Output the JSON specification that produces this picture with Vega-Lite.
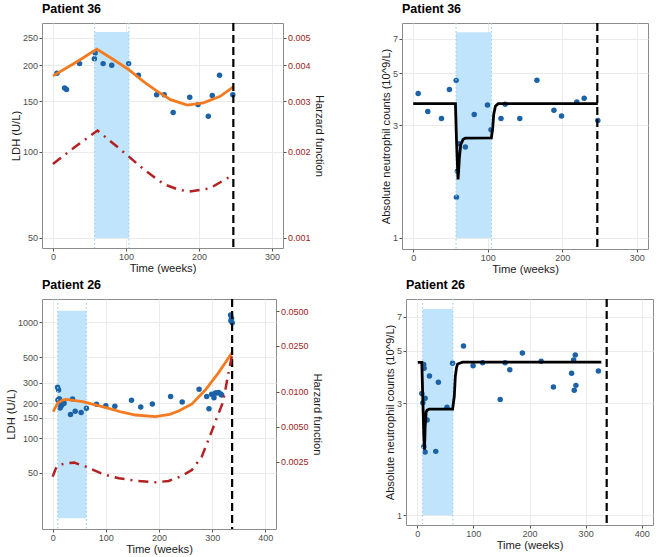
{
  "$schema": "https://vega.github.io/schema/vega-lite/v6.json",
  "padding": {"left": 4, "top": 2, "right": 2, "bottom": 2},
  "config": {
    "font": "Liberation Sans",
    "view": {"stroke": "#8c8c8c", "strokeWidth": 1},
    "axis": {"gridColor": "#EBEBEB", "gridWidth": 1, "domain": false, "tickColor": "#555", "tickSize": 3, "labelColor": "#4D4D4D", "labelFontSize": 9, "labelPadding": 1.5, "titleFontSize": 11.2, "titleFontWeight": "normal", "titleColor": "#1a1a1a", "titlePadding": 1},
    "title": {"fontSize": 12.5, "fontWeight": "bold", "anchor": "start", "frame": "group", "offset": 6, "color": "#000"}
  },
  "datasets": {
    "p36_shade": [{"start": 57, "end": 104, "low": 50, "high": 262}],
    "p36_end": [{"week": 247}],
    "p36_obs": [
      {"week": 5.5, "ldh": 188}, {"week": 15.9, "ldh": 167}, {"week": 18.6, "ldh": 165}, {"week": 36.5, "ldh": 203},
      {"week": 56.7, "ldh": 211}, {"week": 57.8, "ldh": 221}, {"week": 68.7, "ldh": 203}, {"week": 80.5, "ldh": 200.5},
      {"week": 103.7, "ldh": 203}, {"week": 117, "ldh": 185}, {"week": 142, "ldh": 158}, {"week": 152.4, "ldh": 158},
      {"week": 164.6, "ldh": 137}, {"week": 187.3, "ldh": 155}, {"week": 198.6, "ldh": 146}, {"week": 212.7, "ldh": 133},
      {"week": 218.1, "ldh": 157}, {"week": 228.1, "ldh": 185}, {"week": 246.3, "ldh": 158}
    ],
    "p36_fit": [
      {"week": 0, "ldh": 184}, {"week": 34, "ldh": 207}, {"week": 60, "ldh": 228}, {"week": 80, "ldh": 212},
      {"week": 103, "ldh": 194}, {"week": 125, "ldh": 175}, {"week": 142, "ldh": 163}, {"week": 161, "ldh": 152},
      {"week": 184, "ldh": 145.5}, {"week": 206, "ldh": 148}, {"week": 229, "ldh": 156}, {"week": 246.5, "ldh": 168}
    ],
    "p36_haz": [
      {"week": 0, "hazard": 0.001813}, {"week": 30, "hazard": 0.002075}, {"week": 61, "hazard": 0.00237},
      {"week": 90, "hazard": 0.00206}, {"week": 125, "hazard": 0.00173}, {"week": 152, "hazard": 0.00154},
      {"week": 170, "hazard": 0.00148}, {"week": 186, "hazard": 0.00145}, {"week": 215, "hazard": 0.00149},
      {"week": 246.5, "hazard": 0.00166}
    ],
    "p36n_shade": [{"start": 57.5, "end": 105, "low": 1, "high": 7.46}],
    "p36n_obs": [
      {"week": 6.7, "anc": 4.10}, {"week": 19.6, "anc": 3.44}, {"week": 37.9, "anc": 3.21}, {"week": 48.6, "anc": 4.26},
      {"week": 57.6, "anc": 4.66}, {"week": 58, "anc": 1.49}, {"week": 59.3, "anc": 1.92}, {"week": 62, "anc": 2.51},
      {"week": 70, "anc": 2.43}, {"week": 81.9, "anc": 3.34}, {"week": 99.7, "anc": 3.66}, {"week": 104.4, "anc": 2.88},
      {"week": 117.8, "anc": 3.21}, {"week": 123.4, "anc": 3.69}, {"week": 143, "anc": 3.21}, {"week": 166, "anc": 4.67},
      {"week": 188.8, "anc": 3.48}, {"week": 199, "anc": 3.29}, {"week": 219.5, "anc": 3.77}, {"week": 229.4, "anc": 3.91},
      {"week": 247.7, "anc": 3.15}
    ],
    "p36n_fit": [
      {"week": 0, "anc": 3.71}, {"week": 56.7, "anc": 3.71}, {"week": 58, "anc": 2.66}, {"week": 59.4, "anc": 2.02},
      {"week": 60.2, "anc": 1.77}, {"week": 62, "anc": 2.19}, {"week": 63.8, "anc": 2.49}, {"week": 67, "anc": 2.62},
      {"week": 70, "anc": 2.65}, {"week": 104.9, "anc": 2.66}, {"week": 106.7, "anc": 2.93}, {"week": 108, "anc": 3.34},
      {"week": 110.3, "anc": 3.62}, {"week": 113.9, "anc": 3.71}, {"week": 247.7, "anc": 3.71}
    ],
    "p26_shade": [{"start": 9.5, "end": 63.5, "low": 20.2, "high": 1260}],
    "p26_end": [{"week": 337.5}],
    "p26_obs": [
      {"week": 9.3, "ldh": 274}, {"week": 11.2, "ldh": 260}, {"week": 10, "ldh": 213}, {"week": 12.5, "ldh": 218},
      {"week": 13.5, "ldh": 205}, {"week": 14, "ldh": 182}, {"week": 15.5, "ldh": 188}, {"week": 17, "ldh": 193},
      {"week": 19, "ldh": 198}, {"week": 21.5, "ldh": 200}, {"week": 33.6, "ldh": 160}, {"week": 37.4, "ldh": 217},
      {"week": 42.4, "ldh": 170}, {"week": 53.6, "ldh": 166}, {"week": 63.6, "ldh": 181}, {"week": 82.5, "ldh": 196},
      {"week": 100, "ldh": 190}, {"week": 117, "ldh": 188}, {"week": 148.3, "ldh": 212}, {"week": 165.7, "ldh": 185},
      {"week": 187.5, "ldh": 197}, {"week": 221.8, "ldh": 228}, {"week": 243.6, "ldh": 205}, {"week": 275.4, "ldh": 264},
      {"week": 289.7, "ldh": 228}, {"week": 294, "ldh": 179}, {"week": 299, "ldh": 239}, {"week": 303.4, "ldh": 223},
      {"week": 305.9, "ldh": 245}, {"week": 308.4, "ldh": 245}, {"week": 312.1, "ldh": 248}, {"week": 315.9, "ldh": 240},
      {"week": 317.8, "ldh": 235}, {"week": 334.6, "ldh": 1157}, {"week": 336.4, "ldh": 1083}, {"week": 335.2, "ldh": 1033},
      {"week": 337.7, "ldh": 993}
    ],
    "p26_fit": [
      {"week": 1, "ldh": 169}, {"week": 9.3, "ldh": 200}, {"week": 18.7, "ldh": 213}, {"week": 25, "ldh": 216},
      {"week": 56, "ldh": 206}, {"week": 93.5, "ldh": 187}, {"week": 130.8, "ldh": 167}, {"week": 155.8, "ldh": 158},
      {"week": 193, "ldh": 153}, {"week": 220, "ldh": 160}, {"week": 237, "ldh": 171}, {"week": 262, "ldh": 197},
      {"week": 287, "ldh": 260}, {"week": 311, "ldh": 362}, {"week": 324, "ldh": 442}, {"week": 337.7, "ldh": 550}
    ],
    "p26_haz": [
      {"week": 0, "hazard": 0.001854}, {"week": 6.2, "hazard": 0.002188}, {"week": 12.5, "hazard": 0.00234},
      {"week": 24.9, "hazard": 0.002417}, {"week": 40.5, "hazard": 0.00245}, {"week": 62.3, "hazard": 0.002263},
      {"week": 93.5, "hazard": 0.001955}, {"week": 124.6, "hazard": 0.001793}, {"week": 155.8, "hazard": 0.001712},
      {"week": 193.1, "hazard": 0.001656}, {"week": 218, "hazard": 0.0017}, {"week": 243, "hazard": 0.00188},
      {"week": 261.7, "hazard": 0.002117}, {"week": 280.4, "hazard": 0.00276}, {"week": 299, "hazard": 0.00454},
      {"week": 308.4, "hazard": 0.00592}, {"week": 319, "hazard": 0.00788}, {"week": 324, "hazard": 0.00993},
      {"week": 329, "hazard": 0.01339}, {"week": 337.5, "hazard": 0.0209}
    ],
    "p26n_shade": [{"start": 9.5, "end": 63.5, "low": 1, "high": 7.55}],
    "p26n_obs": [
      {"week": 8.2, "anc": 3.30}, {"week": 10, "anc": 3.01}, {"week": 11.5, "anc": 4.38}, {"week": 12.3, "anc": 4.22},
      {"week": 14.1, "anc": 3.15}, {"week": 11.8, "anc": 1.96}, {"week": 14.1, "anc": 1.86}, {"week": 17.7, "anc": 2.54},
      {"week": 21.8, "anc": 3.91}, {"week": 33, "anc": 1.87}, {"week": 37.7, "anc": 3.68}, {"week": 53, "anc": 2.88},
      {"week": 63, "anc": 4.43}, {"week": 82.4, "anc": 5.25}, {"week": 99.5, "anc": 4.33}, {"week": 116.6, "anc": 4.46},
      {"week": 147.8, "anc": 3.11}, {"week": 156.6, "anc": 4.46}, {"week": 164.9, "anc": 4.16}, {"week": 187.3, "anc": 4.90},
      {"week": 220.8, "anc": 4.52}, {"week": 242.6, "anc": 3.51}, {"week": 275, "anc": 4.02}, {"week": 278.6, "anc": 4.58},
      {"week": 279.7, "anc": 3.40}, {"week": 281.5, "anc": 4.81}, {"week": 282.7, "anc": 3.57}, {"week": 322.7, "anc": 4.11}
    ],
    "p26n_fit": [
      {"week": 1, "anc": 4.47}, {"week": 8.2, "anc": 4.47}, {"week": 10, "anc": 3.09}, {"week": 11.8, "anc": 2.16},
      {"week": 13, "anc": 1.90}, {"week": 14.1, "anc": 2.38}, {"week": 15.9, "anc": 2.75}, {"week": 17.7, "anc": 2.80},
      {"week": 21.8, "anc": 2.83}, {"week": 63, "anc": 2.83}, {"week": 66, "anc": 3.2}, {"week": 67.8, "anc": 3.89},
      {"week": 70, "anc": 4.25}, {"week": 72, "anc": 4.40}, {"week": 80.7, "anc": 4.48}, {"week": 328, "anc": 4.48}
    ]
  },
  "vconcat": [
    {
      "hconcat": [
        {
          "title": {"text": "Patient 36"},
          "width": 241, "height": 225,
          "layer": [
            {"layer": [
              {"data": {"name": "p36_shade"}, "mark": {"type": "rect", "color": "#bfe4fb"},
               "encoding": {
                 "x": {"field": "start", "type": "quantitative", "title": "Time (weeks)", "scale": {"domain": [-15, 315], "nice": false, "zero": false}, "axis": {"values": [0, 100, 200, 300]}},
                 "x2": {"field": "end"},
                 "y": {"field": "low", "type": "quantitative", "title": "LDH (U/L)", "scale": {"type": "log", "domain": [46.1, 281.4], "nice": false}, "axis": {"values": [50, 100, 150, 200, 250], "format": "d"}},
                 "y2": {"field": "high"}}},
              {"data": {"name": "p36_obs"}, "mark": {"type": "circle", "size": 30, "color": "#1b62a7", "opacity": 1},
               "encoding": {"x": {"field": "week", "type": "quantitative", "title": "Time (weeks)"}, "y": {"field": "ldh", "type": "quantitative", "title": "LDH (U/L)"}}},
              {"data": {"name": "p36_shade"}, "mark": {"type": "rule", "color": "#9fd3ee", "strokeDash": [1.5, 2.5], "strokeWidth": 1.2},
               "encoding": {"x": {"field": "start", "type": "quantitative", "title": "Time (weeks)"}}},
              {"data": {"name": "p36_shade"}, "mark": {"type": "rule", "color": "#9fd3ee", "strokeDash": [1.5, 2.5], "strokeWidth": 1.2},
               "encoding": {"x": {"field": "end", "type": "quantitative", "title": "Time (weeks)"}}},
              {"data": {"name": "p36_fit"}, "mark": {"type": "line", "color": "#f47b20", "strokeWidth": 2.8},
               "encoding": {"x": {"field": "week", "type": "quantitative", "title": "Time (weeks)"}, "y": {"field": "ldh", "type": "quantitative", "title": "LDH (U/L)"}}},
              {"data": {"name": "p36_end"}, "mark": {"type": "rule", "color": "#000", "strokeDash": [8, 4], "strokeWidth": 2.2},
               "encoding": {"x": {"field": "week", "type": "quantitative", "title": "Time (weeks)"}}}
            ]},
            {"data": {"name": "p36_haz"}, "mark": {"type": "line", "color": "#b22222", "strokeWidth": 2.5, "strokeDash": [10, 6, 2, 6]},
             "encoding": {
               "x": {"field": "week", "type": "quantitative", "title": "Time (weeks)"},
               "y": {"field": "hazard", "type": "quantitative", "title": "Harzard function", "scale": {"type": "log", "domain": [0.000922, 0.005628], "nice": false},
                     "axis": {"orient": "right", "values": [0.001, 0.002, 0.003, 0.004, 0.005], "format": ".3f", "labelColor": "#9b2423", "grid": false, "titlePadding": 3}}}}
          ],
          "resolve": {"scale": {"y": "independent"}}
        },
        {
          "title": {"text": "Patient 36"},
          "width": 246, "height": 226,
          "layer": [
            {"data": {"name": "p36n_shade"}, "mark": {"type": "rect", "color": "#bfe4fb"},
             "encoding": {
               "x": {"field": "start", "type": "quantitative", "title": "Time (weeks)", "scale": {"domain": [-15, 315], "nice": false, "zero": false}, "axis": {"values": [0, 100, 200, 300]}},
               "x2": {"field": "end"},
               "y": {"field": "low", "type": "quantitative", "title": "Absolute neutrophil counts (10^9/L)", "scale": {"type": "log", "domain": [0.898, 8.16], "nice": false}, "axis": {"values": [1, 3, 5, 7], "format": "d"}},
               "y2": {"field": "high"}}},
            {"data": {"name": "p36n_obs"}, "mark": {"type": "circle", "size": 30, "color": "#1b62a7", "opacity": 1},
             "encoding": {"x": {"field": "week", "type": "quantitative", "title": "Time (weeks)"}, "y": {"field": "anc", "type": "quantitative", "title": "Absolute neutrophil counts (10^9/L)"}}},
            {"data": {"name": "p36n_shade"}, "mark": {"type": "rule", "color": "#9fd3ee", "strokeDash": [1.5, 2.5], "strokeWidth": 1.2},
             "encoding": {"x": {"field": "start", "type": "quantitative", "title": "Time (weeks)"}}},
            {"data": {"name": "p36n_shade"}, "mark": {"type": "rule", "color": "#9fd3ee", "strokeDash": [1.5, 2.5], "strokeWidth": 1.2},
             "encoding": {"x": {"field": "end", "type": "quantitative", "title": "Time (weeks)"}}},
            {"data": {"name": "p36n_fit"}, "mark": {"type": "line", "color": "#000", "strokeWidth": 2.8},
             "encoding": {"x": {"field": "week", "type": "quantitative", "title": "Time (weeks)"}, "y": {"field": "anc", "type": "quantitative", "title": "Absolute neutrophil counts (10^9/L)"}}},
            {"data": {"name": "p36_end"}, "mark": {"type": "rule", "color": "#000", "strokeDash": [8, 4], "strokeWidth": 2.2},
             "encoding": {"x": {"field": "week", "type": "quantitative", "title": "Time (weeks)"}}}
          ]
        }
      ],
      "spacing": 119, "bounds": "flush"
    },
    {
      "hconcat": [
        {
          "title": {"text": "Patient 26"},
          "width": 234, "height": 230,
          "layer": [
            {"layer": [
              {"data": {"name": "p26_shade"}, "mark": {"type": "rect", "color": "#bfe4fb"},
               "encoding": {
                 "x": {"field": "start", "type": "quantitative", "title": "Time (weeks)", "scale": {"domain": [-20, 420], "nice": false, "zero": false}, "axis": {"values": [0, 100, 200, 300, 400]}},
                 "x2": {"field": "end"},
                 "y": {"field": "low", "type": "quantitative", "title": "LDH (U/L)", "scale": {"type": "log", "domain": [16.35, 1590], "nice": false}, "axis": {"values": [50, 100, 150, 200, 300, 500, 1000], "format": "d"}},
                 "y2": {"field": "high"}}},
              {"data": {"name": "p26_obs"}, "mark": {"type": "circle", "size": 30, "color": "#1b62a7", "opacity": 1},
               "encoding": {"x": {"field": "week", "type": "quantitative", "title": "Time (weeks)"}, "y": {"field": "ldh", "type": "quantitative", "title": "LDH (U/L)"}}},
              {"data": {"name": "p26_shade"}, "mark": {"type": "rule", "color": "#9fd3ee", "strokeDash": [1.5, 2.5], "strokeWidth": 1.2},
               "encoding": {"x": {"field": "start", "type": "quantitative", "title": "Time (weeks)"}}},
              {"data": {"name": "p26_shade"}, "mark": {"type": "rule", "color": "#9fd3ee", "strokeDash": [1.5, 2.5], "strokeWidth": 1.2},
               "encoding": {"x": {"field": "end", "type": "quantitative", "title": "Time (weeks)"}}},
              {"data": {"name": "p26_fit"}, "mark": {"type": "line", "color": "#f47b20", "strokeWidth": 2.8},
               "encoding": {"x": {"field": "week", "type": "quantitative", "title": "Time (weeks)"}, "y": {"field": "ldh", "type": "quantitative", "title": "LDH (U/L)"}}},
              {"data": {"name": "p26_end"}, "mark": {"type": "rule", "color": "#000", "strokeDash": [8, 4], "strokeWidth": 2.2},
               "encoding": {"x": {"field": "week", "type": "quantitative", "title": "Time (weeks)"}}}
            ]},
            {"data": {"name": "p26_haz"}, "mark": {"type": "line", "color": "#b22222", "strokeWidth": 2.5, "strokeDash": [10, 6, 2, 6]},
             "encoding": {
               "x": {"field": "week", "type": "quantitative", "title": "Time (weeks)"},
               "y": {"field": "hazard", "type": "quantitative", "title": "Harzard function", "scale": {"type": "log", "domain": [0.000654, 0.0636], "nice": false},
                     "axis": {"orient": "right", "values": [0.0025, 0.005, 0.01, 0.025, 0.05], "format": ".4f", "labelColor": "#9b2423", "grid": false, "titlePadding": 3}}}}
          ],
          "resolve": {"scale": {"y": "independent"}}
        },
        {
          "title": {"text": "Patient 26"},
          "width": 247, "height": 226,
          "layer": [
            {"data": {"name": "p26n_shade"}, "mark": {"type": "rect", "color": "#bfe4fb"},
             "encoding": {
               "x": {"field": "start", "type": "quantitative", "title": "Time (weeks)", "scale": {"domain": [-20, 420], "nice": false, "zero": false}, "axis": {"values": [0, 100, 200, 300, 400]}},
               "x2": {"field": "end"},
               "y": {"field": "low", "type": "quantitative", "title": "Absolute neutrophil counts (10^9/L)", "scale": {"type": "log", "domain": [0.909, 8.32], "nice": false}, "axis": {"values": [1, 3, 5, 7], "format": "d"}},
               "y2": {"field": "high"}}},
            {"data": {"name": "p26n_obs"}, "mark": {"type": "circle", "size": 30, "color": "#1b62a7", "opacity": 1},
             "encoding": {"x": {"field": "week", "type": "quantitative", "title": "Time (weeks)"}, "y": {"field": "anc", "type": "quantitative", "title": "Absolute neutrophil counts (10^9/L)"}}},
            {"data": {"name": "p26n_shade"}, "mark": {"type": "rule", "color": "#9fd3ee", "strokeDash": [1.5, 2.5], "strokeWidth": 1.2},
             "encoding": {"x": {"field": "start", "type": "quantitative", "title": "Time (weeks)"}}},
            {"data": {"name": "p26n_shade"}, "mark": {"type": "rule", "color": "#9fd3ee", "strokeDash": [1.5, 2.5], "strokeWidth": 1.2},
             "encoding": {"x": {"field": "end", "type": "quantitative", "title": "Time (weeks)"}}},
            {"data": {"name": "p26n_fit"}, "mark": {"type": "line", "color": "#000", "strokeWidth": 2.8},
             "encoding": {"x": {"field": "week", "type": "quantitative", "title": "Time (weeks)"}, "y": {"field": "anc", "type": "quantitative", "title": "Absolute neutrophil counts (10^9/L)"}}},
            {"data": {"name": "p26_end"}, "mark": {"type": "rule", "color": "#000", "strokeDash": [8, 4], "strokeWidth": 2.2},
             "encoding": {"x": {"field": "week", "type": "quantitative", "title": "Time (weeks)"}}}
          ]
        }
      ],
      "spacing": 130, "bounds": "flush"
    }
  ],
  "spacing": 2
}
